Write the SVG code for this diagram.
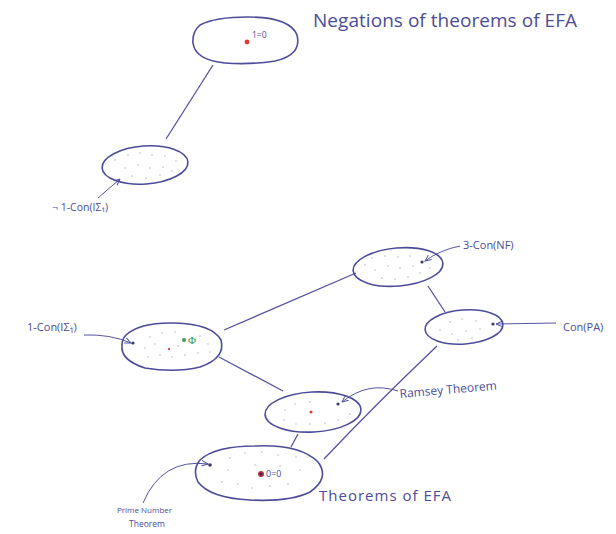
<svg xmlns="http://www.w3.org/2000/svg" width="616" height="534" viewBox="0 0 616 534">
<defs>
<style>
.blob{fill:none;stroke:#4d4c98;stroke-width:1.6}
.edge{fill:none;stroke:#5553a0;stroke-width:1.3}
.ptr{fill:none;stroke:#5553a0;stroke-width:1;marker-end:url(#ah)}
.lbl{font-family:"Open Sans","DejaVu Sans",sans-serif;fill:#4d4c98}
.dots circle{fill:#a8a8cc}
.pt{fill:#3a3a6a}
</style>
<marker id="ah" viewBox="0 0 10 10" refX="9" refY="5" markerWidth="7" markerHeight="7" orient="auto">
<path d="M0,1 L9,5 L0,9" fill="none" stroke="#5553a0" stroke-width="1.4"/>
</marker>
</defs>
<rect width="616" height="534" fill="#ffffff"/>

<g id="connectors">
<path class="edge" d="M213,65 L166,139"/>
<path class="edge" d="M224,330 L356,273"/>
<path class="edge" d="M428,286 L445,312"/>
<path class="edge" d="M219,357 L283,391"/>
<path class="edge" d="M437,346 Q375,405 324,459"/>
<path class="edge" d="M298,434 L291,447"/>
<path class="ptr" d="M98,198 L120,179"/>
<path class="ptr" d="M84,335 Q110,334 131,343"/>
<path class="ptr" d="M460,246 Q440,250 425,261"/>
<path class="ptr" d="M556,323 L496,324"/>
<path class="ptr" d="M398,391 Q368,381 342,402"/>
<path class="ptr" d="M143,503 Q162,458 208,464"/>
</g>

<g id="title">
<text class="lbl" x="313" y="27" font-size="19" textLength="264" lengthAdjust="spacing">Negations of theorems of EFA</text>
</g>

<g id="contradiction">
<path class="blob" d="M200,25 Q215,17 248,17 Q290,17 297,35 Q302,55 275,61 Q250,65 225,63 Q195,60 193,43 Q192,32 200,25 Z"/>
<circle cx="247" cy="42" r="2.4" fill="#e03c3c"/>
<text class="lbl" x="252" y="38" font-size="8.5">1=0</text>
</g>

<g id="neg-1con">
<ellipse class="blob" cx="145" cy="165" rx="43" ry="19" transform="rotate(-4 145 165)"/>
<g class="dots">
<circle cx="115" cy="160" r="0.7"/><circle cx="128" cy="155" r="0.7"/><circle cx="140" cy="153" r="0.7"/><circle cx="152" cy="155" r="0.7"/><circle cx="165" cy="156" r="0.7"/><circle cx="176" cy="161" r="0.7"/><circle cx="125" cy="168" r="0.7"/><circle cx="138" cy="165" r="0.7"/><circle cx="150" cy="168" r="0.7"/><circle cx="163" cy="167" r="0.7"/><circle cx="132" cy="176" r="0.7"/><circle cx="146" cy="178" r="0.7"/><circle cx="160" cy="175" r="0.7"/><circle cx="172" cy="171" r="0.7"/>
</g>
<text class="lbl" x="52" y="211" font-size="10.5">¬ 1-Con(IΣ₁)</text>
</g>

<g id="con-nf">
<ellipse class="blob" cx="398" cy="267" rx="45" ry="19" transform="rotate(-5 398 267)"/>
<g class="dots">
<circle cx="365" cy="265" r="0.7"/><circle cx="372" cy="258" r="0.7"/><circle cx="385" cy="256" r="0.7"/><circle cx="398" cy="257" r="0.7"/><circle cx="410" cy="256" r="0.7"/><circle cx="375" cy="270" r="0.7"/><circle cx="388" cy="266" r="0.7"/><circle cx="400" cy="268" r="0.7"/><circle cx="413" cy="266" r="0.7"/><circle cx="382" cy="278" r="0.7"/><circle cx="395" cy="279" r="0.7"/><circle cx="408" cy="277" r="0.7"/><circle cx="420" cy="273" r="0.7"/><circle cx="430" cy="268" r="0.7"/>
</g>
<circle class="pt" cx="422" cy="262" r="1.6"/>
<text class="lbl" x="463" y="249" font-size="11">3-Con(NF)</text>
</g>

<g id="con-pa">
<ellipse class="blob" cx="464" cy="327" rx="39" ry="17" transform="rotate(-4 464 327)"/>
<g class="dots">
<circle cx="440" cy="330" r="0.7"/><circle cx="450" cy="322" r="0.7"/><circle cx="462" cy="319" r="0.7"/><circle cx="476" cy="321" r="0.7"/><circle cx="452" cy="334" r="0.7"/><circle cx="466" cy="331" r="0.7"/><circle cx="480" cy="329" r="0.7"/><circle cx="458" cy="340" r="0.7"/><circle cx="472" cy="338" r="0.7"/>
</g>
<circle class="pt" cx="493" cy="324" r="1.6"/>
<text class="lbl" x="563" y="331" font-size="11">Con(PA)</text>
</g>

<g id="one-con">
<path class="blob" d="M126,335 Q140,322 175,323 Q212,324 221,340 Q226,358 200,367 Q175,373 145,368 Q120,360 122,345 Q122,339 126,335 Z"/>
<g class="dots">
<circle cx="150" cy="337" r="0.7"/><circle cx="162" cy="333" r="0.7"/><circle cx="175" cy="332" r="0.7"/><circle cx="200" cy="336" r="0.7"/><circle cx="208" cy="344" r="0.7"/><circle cx="145" cy="348" r="0.7"/><circle cx="155" cy="344" r="0.7"/><circle cx="148" cy="357" r="0.7"/><circle cx="160" cy="355" r="0.7"/><circle cx="172" cy="357" r="0.7"/><circle cx="185" cy="355" r="0.7"/><circle cx="198" cy="353" r="0.7"/><circle cx="178" cy="346" r="0.7"/><circle cx="210" cy="352" r="0.7"/>
</g>
<circle class="pt" cx="133" cy="343" r="1.6"/>
<circle cx="169" cy="349" r="1.2" fill="#e05050"/>
<circle cx="184" cy="340" r="2" fill="#3a9a55"/>
<text x="188" y="344" font-size="11" font-family="Liberation Serif,serif" fill="#3a9a55">Φ</text>
<text class="lbl" x="27" y="331" font-size="11">1-Con(IΣ₁)</text>
</g>

<g id="ramsey">
<ellipse class="blob" cx="313" cy="412" rx="48" ry="20" transform="rotate(-3 313 412)"/>
<g class="dots">
<circle cx="285" cy="410" r="0.7"/><circle cx="295" cy="404" r="0.7"/><circle cx="310" cy="402" r="0.7"/><circle cx="284" cy="420" r="0.7"/><circle cx="296" cy="424" r="0.7"/><circle cx="310" cy="424" r="0.7"/><circle cx="325" cy="423" r="0.7"/><circle cx="338" cy="420" r="0.7"/><circle cx="350" cy="414" r="0.7"/>
</g>
<circle cx="311" cy="412" r="1.5" fill="#e03c3c"/>
<circle class="pt" cx="338" cy="404" r="1.6"/>
<text class="lbl" x="400" y="398" font-size="12" transform="rotate(-5 400 398)">Ramsey Theorem</text>
</g>

<g id="efa">
<path class="blob" d="M200,460 Q215,446 255,446 Q300,444 318,462 Q330,478 310,492 Q290,502 250,500 Q210,498 198,482 Q192,470 200,460 Z"/>
<g class="dots">
<circle cx="230" cy="458" r="0.7"/><circle cx="245" cy="453" r="0.7"/><circle cx="262" cy="452" r="0.7"/><circle cx="278" cy="455" r="0.7"/><circle cx="296" cy="457" r="0.7"/><circle cx="228" cy="470" r="0.7"/><circle cx="222" cy="482" r="0.7"/><circle cx="238" cy="484" r="0.7"/><circle cx="252" cy="488" r="0.7"/><circle cx="270" cy="486" r="0.7"/><circle cx="288" cy="484" r="0.7"/><circle cx="300" cy="470" r="0.7"/><circle cx="255" cy="465" r="0.7"/><circle cx="280" cy="466" r="0.7"/>
</g>
<circle class="pt" cx="210" cy="465" r="1.8"/>
<circle cx="261" cy="474" r="3" fill="#c0303a"/>
<circle cx="261" cy="474" r="1.5" fill="#3a2a4a"/>
<text class="lbl" x="266" y="477" font-size="9">0=0</text>
<text class="lbl" x="319" y="501" font-size="15" textLength="132" lengthAdjust="spacing">Theorems of EFA</text>
<text class="lbl" x="117" y="513" font-size="8">Prime Number</text>
<text class="lbl" x="129" y="527" font-size="8.5">Theorem</text>
</g>
</svg>
